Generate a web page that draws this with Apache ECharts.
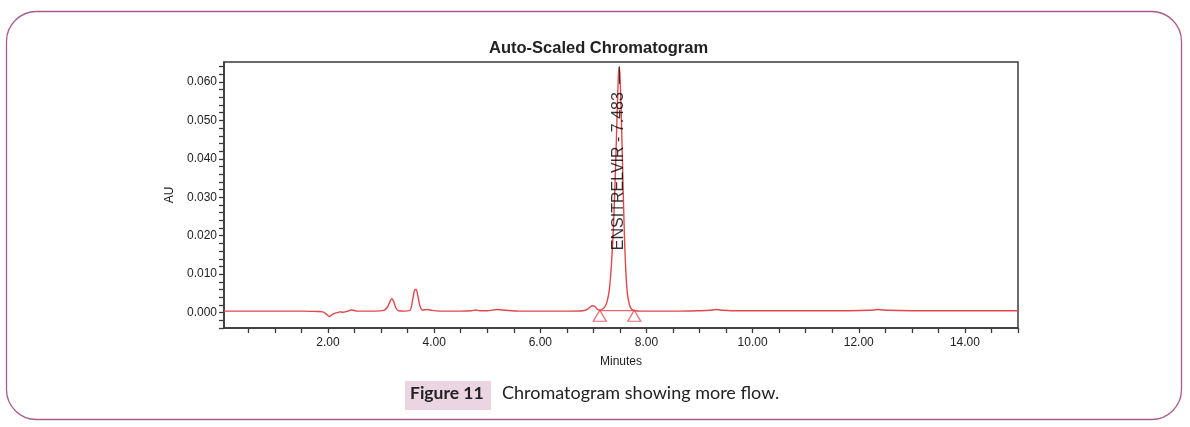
<!DOCTYPE html>
<html>
<head>
<meta charset="utf-8">
<script src="https://cdn.jsdelivr.net/npm/echarts@6/dist/echarts.min.js"></script>
<style>html,body{margin:0;padding:0;background:#fff}#c{width:1190px;height:427px}</style>
</head>
<body>
<div id="c"></div>
<script>
// Chromatogram trace: time (min) and absorbance (AU)
const times = [0.04,0.5,1.0,1.5,1.8,1.9,1.95,2.0,2.03,2.07,2.12,2.18,2.22,2.28,2.35,2.45,2.55,2.7,2.9,3.05,3.12,3.17,3.2,3.24,3.28,3.33,3.45,3.55,3.59,3.63,3.66,3.69,3.73,3.78,3.88,3.95,4.1,4.5,4.7,4.78,4.86,5.0,5.19,5.35,5.6,6.0,6.5,6.8,6.9,6.98,7.03,7.08,7.12,7.18,7.22,7.26,7.30,7.34,7.38,7.42,7.45,7.47,7.483,7.50,7.52,7.55,7.58,7.61,7.64,7.68,7.72,7.78,7.9,8.2,8.6,9.0,9.2,9.31,9.45,9.6,10.0,11.0,11.8,12.2,12.36,12.55,13.0,14.0,15.0];
const absorb = [0.0004,0.0004,0.0004,0.0004,0.0003,0.0002,-0.0002,-0.0008,-0.0010,-0.0006,-0.0002,0.0000,0.0002,0.0001,0.0003,0.0007,0.0004,0.0004,0.0004,0.0006,0.0014,0.0030,0.0036,0.0028,0.0012,0.0005,0.0004,0.0007,0.0030,0.0058,0.0060,0.0045,0.0018,0.0007,0.0008,0.0006,0.0004,0.0004,0.0005,0.0007,0.0005,0.0005,0.0008,0.0006,0.0004,0.0004,0.0004,0.0005,0.0010,0.0018,0.0016,0.0008,0.0006,0.0010,0.0016,0.0030,0.0060,0.0125,0.0230,0.0390,0.0530,0.0615,0.0640,0.0620,0.0540,0.0380,0.0220,0.0110,0.0050,0.0020,0.0009,0.0005,0.0004,0.0004,0.0004,0.0005,0.0006,0.0008,0.0006,0.0005,0.0005,0.0005,0.0005,0.0006,0.0008,0.0006,0.0005,0.0005,0.0005];

// Peak annotation and integration markers
const peakName = 'ENSITRELVIR - 7.483';
const peakTime = 7.483;
const peakTop = 0.0640;
const peakLabelY = 0.0368;
const markerTimes = [7.12, 7.77];
const markerLevel = 0.0005;

// Axis ticks and labels
const xLabelValues = [2, 4, 6, 8, 10, 12, 14];
const xTickValues = [0.5,1,1.5,2,2.5,3,3.5,4,4.5,5,5.5,6,6.5,7,7.5,8,8.5,9,9.5,10,10.5,11,11.5,12,12.5,13,13.5,14,14.5,15];
const yLabelValues = [0, 0.01, 0.02, 0.03, 0.04, 0.05, 0.06];
const yTickValues = [-0.004,-0.002,0,0.002,0.004,0.006,0.008,0.010,0.012,0.014,0.016,0.018,0.020,0.022,0.024,0.026,0.028,0.030,0.032,0.034,0.036,0.038,0.040,0.042,0.044,0.046,0.048,0.050,0.052,0.054,0.056,0.058,0.060,0.062,0.064];

const title = 'Auto-Scaled Chromatogram';
const xName = 'Minutes';
const yName = 'AU';
const figLabel = 'Figure 11';
const figCaption = 'Chromatogram showing more flow.';

const red = '#e2474b';
const axisColor = '#3a3a3a';
const font = '"Liberation Sans", Arial, sans-serif';

const chart = echarts.init(document.getElementById('c'), null, {renderer: 'canvas'});
chart.setOption({
  animation: false,
  backgroundColor: '#ffffff',
  title: {
    text: title, left: 484, top: 35,
    textStyle: {fontFamily: font, fontSize: 16.5, fontWeight: 'bold', color: '#222'}
  },
  grid: {left: 224, top: 62, right: 172, bottom: 99, show: true, borderColor: axisColor, borderWidth: 1.5, backgroundColor: 'transparent'},
  xAxis: {
    type: 'value', min: 0.04, max: 15.0,
    name: xName, nameLocation: 'middle', nameGap: 28,
    nameTextStyle: {fontFamily: font, fontSize: 12, color: '#222'},
    axisLine: {show: true, onZero: false, lineStyle: {color: axisColor, width: 1.5}},
    axisTick: {show: true, length: 5, customValues: xTickValues, lineStyle: {color: axisColor, width: 1.3}},
    axisLabel: {customValues: xLabelValues, margin: 9, fontFamily: font, fontSize: 12, color: '#222', formatter: v => v.toFixed(2)},
    splitLine: {show: false}
  },
  yAxis: {
    type: 'value', min: -0.004, max: 0.0652,
    name: yName, nameLocation: 'middle', nameGap: 48, nameRotate: 90,
    nameTextStyle: {fontFamily: font, fontSize: 12, color: '#222'},
    axisLine: {show: true, onZero: false, lineStyle: {color: axisColor, width: 1.5}},
    axisTick: {show: true, length: 5, customValues: yTickValues, lineStyle: {color: axisColor, width: 1.3}},
    axisLabel: {customValues: yLabelValues, margin: 7, fontFamily: font, fontSize: 12, color: '#222', formatter: v => v.toFixed(3)},
    splitLine: {show: false}
  },
  series: [
    {
      type: 'line', data: times.map((t, i) => [t, absorb[i]]),
      showSymbol: false, smooth: 0.3,
      lineStyle: {color: red, width: 1.4},
      markLine: {
        silent: true, symbol: 'none',
        lineStyle: {color: '#333', width: 1, type: 'solid'},
        label: {show: false},
        data: [[{coord: [peakTime, peakTop]}, {coord: [peakTime, 0.0595]}]]
      }
    },
    {
      type: 'line', data: markerTimes.map(t => [t, markerLevel]),
      showSymbol: false, lineStyle: {color: red, width: 1}, silent: true
    },
    {
      type: 'scatter', data: markerTimes.map(t => [t, markerLevel]),
      symbol: 'triangle', symbolSize: [13, 11], symbolOffset: [0, 5],
      itemStyle: {color: 'rgba(255,255,255,0)', borderColor: red, borderWidth: 1.2},
      silent: true, z: 5
    },
    {
      type: 'scatter', data: [[peakTime, peakLabelY]], symbolSize: 0, silent: true, z: 10,
      label: {show: true, position: 'inside', rotate: 90, formatter: peakName, fontFamily: font, fontSize: 16, color: '#000'}
    }
  ],
  graphic: [
    {type: 'rect', shape: {x: 6.5, y: 11.5, width: 1175, height: 408, r: 30}, style: {fill: 'none', stroke: '#a85b8d', lineWidth: 1.3}, silent: true},
    {type: 'rect', shape: {x: 405, y: 381, width: 86, height: 29}, style: {fill: '#ecd5e2'}, silent: true},
    {type: 'text', left: 410, top: 384, style: {text: figLabel, font: 'bold 17.5px Lato, "Open Sans", sans-serif', fill: '#222'}},
    {type: 'text', left: 502, top: 384, style: {text: figCaption, font: '18px Lato, "Open Sans", sans-serif', fill: '#222'}}
  ]
});
</script>
</body>
</html>
